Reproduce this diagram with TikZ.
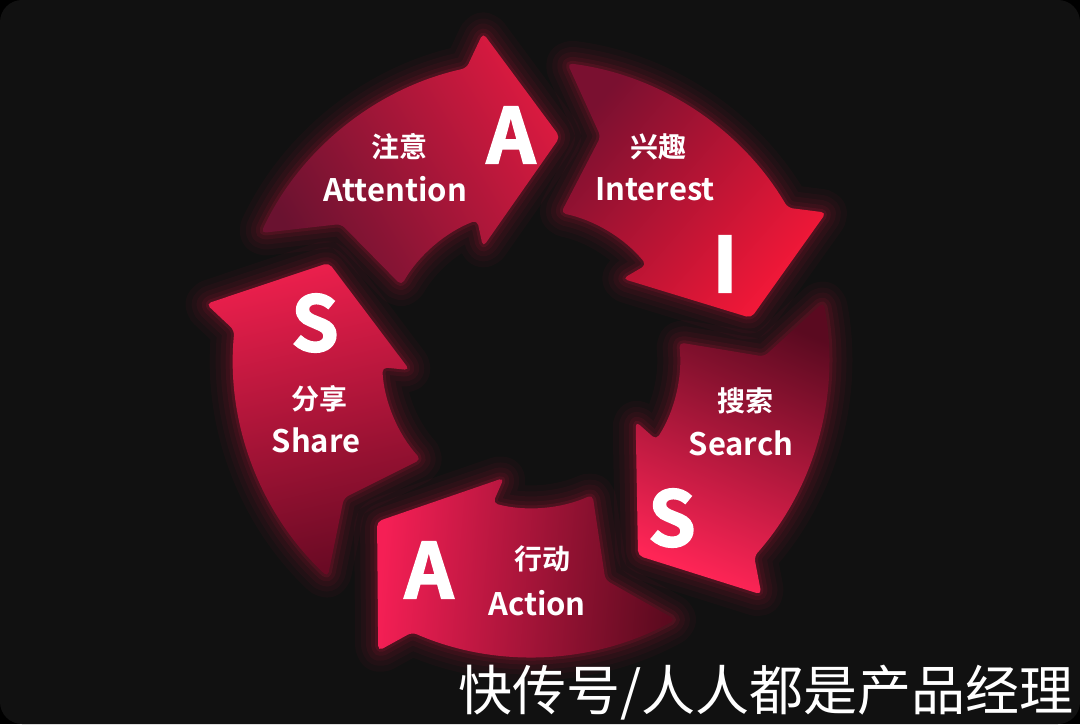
\documentclass[tikz,border=0pt]{standalone}
\usepackage{fontspec}
\newfontfamily\cjkb{Noto Sans CJK SC Bold}
\newfontfamily\cjkr{Noto Sans CJK SC}
\newfontfamily\bigf{Noto Sans CJK SC Bold}[FakeBold=2.5]
\definecolor{bgc}{HTML}{111111}
\definecolor{glowred}{HTML}{FF1F4F}
\tikzset{
  glowline/.style={draw=glowred, line join=round},
  arrowbody/.style={rounded corners=5pt},
  lbl/.style={text=white, font=\cjkb\fontsize{28}{28}\selectfont, inner sep=0pt},
  lat/.style={text=white, font=\cjkb\fontsize{31}{31}\selectfont, inner sep=0pt},
  bigletter/.style={text=white, font=\bigf\fontsize{76}{76}\selectfont, inner sep=0pt},
  wmark/.style={text=white, font=\cjkr\fontsize{54}{54}\selectfont, inner sep=0pt, anchor=east}
}
\def\arrowshape{(155:298) arc[start angle=155, end angle=102.5, radius=298pt] -- (-48,326) -- (29,222) -- (-48,112) -- (111.2:149) arc[start angle=111.2, end angle=150.4, radius=149pt] -- (-190,135) -- cycle}
\newcommand\arrowglow[1]{%
  \begin{scope}[shift={(531,365)}, rotate=#1]
    \foreach \w/\o in {46/0.035, 34/0.04, 24/0.05, 14/0.07, 6/0.1}
      {\draw[glowline, line width=\w pt, opacity=\o, rounded corners=5pt] \arrowshape;}
  \end{scope}}
\newcommand\arrowfill[4]{%
  \begin{scope}[shift={(531,365)}, rotate=#1]
    \shade[arrowbody, top color=#3, bottom color=#2, shading angle=#4] \arrowshape;
  \end{scope}}
\begin{document}
\begin{tikzpicture}[x=1pt,y=1pt]
\useasboundingbox (0,0) rectangle (1080,724);
\fill[black] (0,0) rectangle (1080,724);
\fill[bgc, rounded corners=22pt] (0,0) rectangle (1080,724);
% glows
\arrowglow{0}
\arrowglow{-72}
\arrowglow{-144}
\arrowglow{-216}
\arrowglow{-288}
% bodies
\definecolor{atd}{HTML}{6A1230}\definecolor{atb}{HTML}{DA1A40}
\definecolor{ind}{HTML}{7A1030}\definecolor{inb}{HTML}{F41838}
\definecolor{sed}{HTML}{5A0A20}\definecolor{seb}{HTML}{FF2556}
\definecolor{acd}{HTML}{5A0A1E}\definecolor{acb}{HTML}{F51F55}
\definecolor{shd}{HTML}{6A0A24}\definecolor{shb}{HTML}{EA1F4C}
\arrowfill{0}{atd}{atb}{-59}
\arrowfill{-72}{ind}{inb}{-131}
\arrowfill{-144}{sed}{seb}{-203}
\arrowfill{-216}{acd}{acb}{-275}
\arrowfill{-288}{shd}{shb}{-347}
% texts
\node[lbl] (t1c) at (399,577) {注意};
\node[lat] (t1e) at (395,535) {Attention};
\node[bigletter] (b1) at (511,589) {A};
\node[lbl] (t2c) at (658,577) {兴趣};
\node[lat] (t2e) at (655,535) {Interest};
\node[bigletter] (b2) at (725,460) {I};
\node[lbl] (t3c) at (745,323) {搜索};
\node[lat] (t3e) at (741,281) {Search};
\node[bigletter] (b3) at (672,206) {S};
\node[lbl] (t4c) at (542,165) {行动};
\node[lat] (t4e) at (537,121) {Action};
\node[bigletter] (b4) at (429,154) {A};
\node[lbl] (t5c) at (319,325) {分享};
\node[lat] (t5e) at (316,284) {Share};
\node[bigletter] (b5) at (315,401) {S};
\node[wmark] (wm) at (1074,31) {快传号/人人都是产品经理};
\end{tikzpicture}
\end{document}
